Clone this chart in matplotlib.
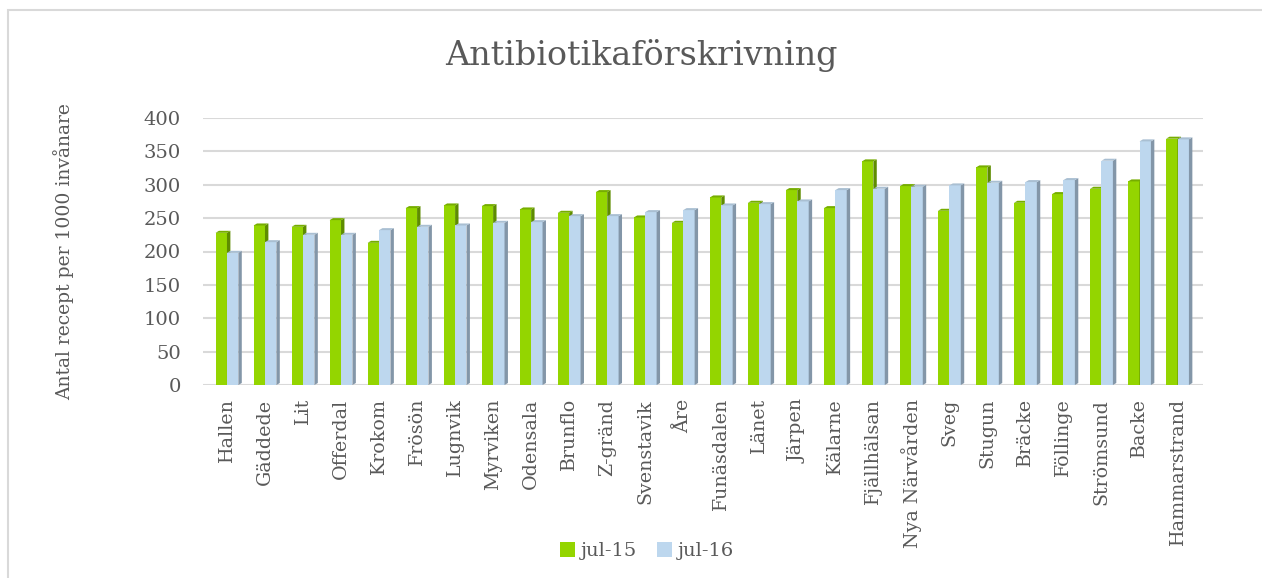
import matplotlib.pyplot as plt
from matplotlib.patches import Rectangle, Patch
import numpy as np

categories = ["Hallen", "Gäddede", "Lit", "Offerdal", "Krokom", "Frösön", "Lugnvik",
              "Myrviken", "Odensala", "Brunflo", "Z-gränd", "Svenstavik", "Åre",
              "Funäsdalen", "Länet", "Järpen", "Kälarne", "Fjällhälsan", "Nya Närvården",
              "Sveg", "Stugun", "Bräcke", "Föllinge", "Strömsund", "Backe", "Hammarstrand"]
jul15 = [228, 239, 237, 247, 213, 265, 269, 268, 263, 258, 289, 251, 243,
         281, 273, 292, 265, 335, 298, 261, 326, 273, 286, 294, 305, 369]
jul16 = [198, 214, 225, 225, 232, 237, 239, 243, 244, 253, 253, 259, 262,
         269, 271, 275, 292, 294, 297, 299, 303, 304, 307, 336, 365, 368]

text_col = "#595959"
plt.rcParams['font.family'] = ['DejaVu Serif']

fig = plt.figure(figsize=(12.62, 5.78), dpi=100)
ax = fig.add_axes([203 / 1262, 1 - 385 / 578, 1000 / 1262, (385 - 118) / 578])

x = np.arange(len(categories))
w = 0.30
dx, dy = 0.09, 3.0


def bars3d(left, vals, front, side, top, z):
    for xl, h in zip(left, vals):
        ax.add_patch(Rectangle((xl, 0), w, h, facecolor=front, edgecolor="none", zorder=z))
        ax.fill([xl + w, xl + w + dx, xl + w + dx, xl + w],
                [0, dy, h + dy, h], color=side, lw=0, zorder=z)
        ax.fill([xl, xl + dx, xl + w + dx, xl + w],
                [h, h + dy, h + dy, h], color=top, lw=0, zorder=z)


bars3d(x - w, jul15, "#94d500", "#5e8c00", "#76ad00", 3)
bars3d(x, jul16, "#bdd7ee", "#8396a8", "#a9bfd2", 4)

ax.set_xlim(-0.63, len(categories) - 1 + 0.67)
ax.set_ylim(0, 400)
ax.set_yticks(range(0, 401, 50))
ax.yaxis.grid(True, color="#d9d9d9", lw=1.5)
ax.set_axisbelow(True)
for s in ax.spines.values():
    s.set_visible(False)
ax.tick_params(length=0, colors=text_col, labelsize=14)
ax.tick_params(axis="y", pad=16)
ax.set_xticks(x)
ax.set_xticklabels(categories, rotation=90, fontsize=13.7, color=text_col)
ax.tick_params(axis="x", pad=10)

ax.set_ylabel("Antal recept per 1000 invånare", fontsize=13.5, color=text_col, labelpad=50)
fig.text(641 / 1262, 1 - 55 / 578, "Antibiotikaförskrivning", ha="center", va="center",
         fontsize=24, color=text_col)

handles = [Patch(facecolor="#94d500", label="jul-15"), Patch(facecolor="#bdd7ee", label="jul-16")]
fig.legend(handles=handles, loc="center", bbox_to_anchor=(647 / 1262, 1 - 551 / 578),
           ncol=2, frameon=False, fontsize=14, handlelength=0.8, handleheight=0.8,
           handletextpad=0.3, columnspacing=1.0, labelcolor=text_col)

fig.patches.append(Rectangle((8 / 1262, -0.05), 1.1, 1 - 10 / 578 + 0.05, transform=fig.transFigure,
                             fill=False, edgecolor="#d9d9d9", lw=1.5))

fig.savefig("out.png", dpi=100)
